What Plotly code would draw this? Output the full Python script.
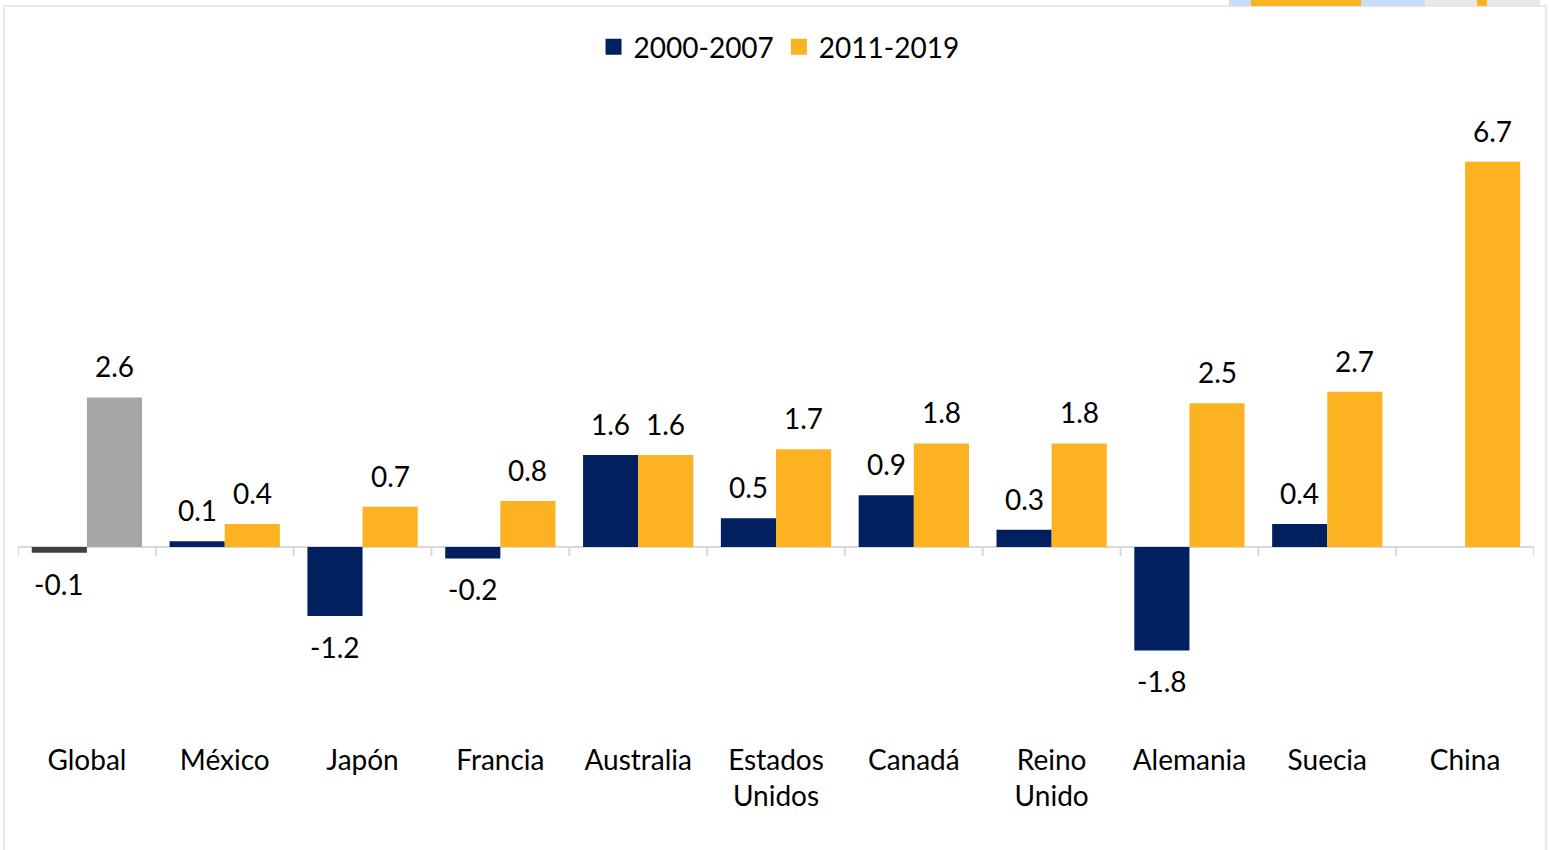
import plotly.graph_objects as go

categories = ["Global", "México", "Japón", "Francia", "Australia", "Estados<br>Unidos",
              "Canadá", "Reino<br>Unido", "Alemania", "Suecia", "China"]
series_names = ["2000-2007", "2011-2019"]
values_2000_2007 = [-0.1, 0.1, -1.2, -0.2, 1.6, 0.5, 0.9, 0.3, -1.8, 0.4, None]
values_2011_2019 = [2.6, 0.4, 0.7, 0.8, 1.6, 1.7, 1.8, 1.8, 2.5, 2.7, 6.7]

NAVY = "#002060"
GOLD = "#FDB321"
DARK_GRAY = "#404040"
LIGHT_GRAY = "#A6A6A6"
AXIS_GRAY = "#D9D9D9"
FONT = "Lato, 'Open Sans', sans-serif"
FS = 28

# figure geometry (pixels)
W, H = 1549, 850
L, R, T, B = 18, 15, 80, 115
plot_w = W - L - R
plot_h = H - T - B
Y_RANGE = [-3.27, 8.12]

colors_a = [DARK_GRAY] + [NAVY] * (len(categories) - 1)
colors_b = [LIGHT_GRAY] + [GOLD] * (len(categories) - 1)

fig = go.Figure()
fig.add_trace(go.Bar(x=categories, y=values_2000_2007, name=series_names[0],
                     marker=dict(color=colors_a, line=dict(width=0)), showlegend=False))
fig.add_trace(go.Bar(x=categories, y=values_2011_2019, name=series_names[1],
                     marker=dict(color=colors_b, line=dict(width=0)), showlegend=False))

# legend entries
for nm, col in zip(series_names, [NAVY, GOLD]):
    fig.add_trace(go.Scatter(x=[None], y=[None], mode="markers", name=nm,
                             marker=dict(symbol="square", size=20, color=col)))

# data labels
annotations = []
for offset, vals in [(-0.2, values_2000_2007), (0.2, values_2011_2019)]:
    for i, v in enumerate(vals):
        if v is None:
            continue
        annotations.append(dict(x=i + offset, y=v, xref="x", yref="y",
                                text=f"{v:.1f}", showarrow=False,
                                yanchor="middle", yshift=31 if v >= 0 else -31,
                                font=dict(family=FONT, size=FS, color="black")))

shapes = []
# category boundary ticks on the zero line
for i in range(len(categories) + 1):
    shapes.append(dict(type="line", xref="x", yref="y", x0=i - 0.5, x1=i - 0.5,
                       ysizemode="pixel", yanchor=0, y0=0, y1=-9,
                       line=dict(color=AXIS_GRAY, width=2)))

def px_x(p):
    return (p - L) / plot_w

def px_y(p):
    return (H - B - p) / plot_h

# chart border
shapes.append(dict(type="rect", xref="paper", yref="paper",
                   x0=px_x(4), x1=px_x(1546), y0=px_y(852), y1=px_y(6),
                   line=dict(color="#E6E0E0", width=1.5), fillcolor="rgba(0,0,0,0)",
                   layer="below"))
# cropped fragments at top right
for x0, x1, c in [(1229, 1251, "#C8DDF8"), (1251, 1361, GOLD), (1361, 1425, "#C8DDF8"),
                  (1425, 1540, "#E8E8E8"), (1477, 1487, GOLD)]:
    shapes.append(dict(type="rect", xref="paper", yref="paper",
                       x0=px_x(x0), x1=px_x(x1), y0=px_y(6), y1=px_y(0),
                       line=dict(width=0), fillcolor=c))

fig.update_layout(
    width=W, height=H,
    margin=dict(l=L, r=R, t=T, b=B, pad=0),
    paper_bgcolor="white", plot_bgcolor="white",
    barmode="group", bargap=0.2, bargroupgap=0,
    font=dict(family=FONT, size=FS, color="black"),
    legend=dict(orientation="h", x=0.502, xanchor="center", y=px_y(47), yanchor="middle",
                font=dict(family=FONT, size=FS, color="black"),
                bgcolor="rgba(0,0,0,0)", itemclick=False),
    xaxis=dict(type="category", range=[-0.5, len(categories) - 0.5],
               showgrid=False, showline=False, ticks="", zeroline=False,
               ticklabelstandoff=6,
               tickfont=dict(family=FONT, size=FS, color="black")),
    yaxis=dict(range=Y_RANGE, showgrid=False, showline=False, showticklabels=False,
               ticks="", zeroline=True, zerolinecolor=AXIS_GRAY, zerolinewidth=2),
    annotations=annotations,
    shapes=shapes,
)

fig.write_html("out.html", config={"displayModeBar": False},
               post_script="document.body.style.margin='0';")
